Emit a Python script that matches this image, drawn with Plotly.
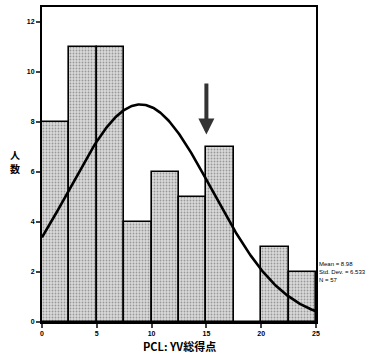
import numpy as np
import plotly.graph_objects as go

bin_starts = [0, 2.5, 5, 7.5, 10, 12.5, 15, 17.5, 20, 22.5]
counts = [8, 11, 11, 4, 6, 5, 7, 0, 3, 2]
bin_width = 2.5
mean_val = 8.98
std_val = 6.533
n_val = 57
x_ticks = [0, 5, 10, 15, 20, 25]
y_ticks = [0, 2, 4, 6, 8, 10, 12]
arrow_x = 15
arrow_top = 9.6
arrow_tip = 7.5

fig = go.Figure()
fig.add_trace(go.Bar(
    x=[s + bin_width / 2 for s in bin_starts], y=counts, width=bin_width,
    marker=dict(color="#d4d4d4", line=dict(color="black", width=1.6),
                pattern=dict(shape=".", fgcolor="#555555", bgcolor="#dadada", size=3, solidity=0.3)),
    showlegend=False,
))
xs = np.linspace(0, 25, 300)
ys = n_val * bin_width / (std_val * np.sqrt(2 * np.pi)) * np.exp(-0.5 * ((xs - mean_val) / std_val) ** 2)
fig.add_trace(go.Scatter(x=xs, y=ys, mode="lines", line=dict(color="black", width=2.6), showlegend=False))

fig.add_annotation(x=arrow_x, y=arrow_tip, ax=arrow_x, ay=arrow_top, xref="x", yref="y", axref="x", ayref="y",
                   showarrow=True, arrowhead=2, arrowsize=0.8, arrowwidth=4, arrowcolor="#333333", text="")

fig.add_annotation(x=1.005, y=0.2, xref="paper", yref="paper", xanchor="left", yanchor="top", align="left",
                   text=f"Mean = {mean_val}<br>Std. Dev. = {std_val}<br>N = {n_val}",
                   showarrow=False, font=dict(size=6, family="Liberation Sans", color="black"))
for ch, yp in (("人", 0.532), ("数", 0.487)):
    fig.add_annotation(x=-0.1, y=yp, xref="paper", yref="paper", xanchor="center", yanchor="middle",
                       showarrow=False, text=f"<b>{ch}</b>",
                       font=dict(size=10, family="Noto Sans CJK JP", color="black"))
fig.add_annotation(x=0.5, y=-0.045, xref="paper", yref="paper", xanchor="center", yanchor="top", showarrow=False,
                   text="<b>PCL: YV総得点</b>", font=dict(size=11, family="Noto Sans CJK JP", color="black"))

tick_font = dict(size=7, family="Liberation Sans", color="black", weight="bold")
fig.update_layout(
    width=382, height=354, margin=dict(l=42, r=66, t=7, b=32),
    paper_bgcolor="white", plot_bgcolor="white", bargap=0,
    xaxis=dict(range=[0, 25], tickvals=x_ticks, ticks="outside", ticklen=4, tickwidth=1.5, automargin=False,
               showline=True, linecolor="black", linewidth=2, mirror=True, showgrid=False, zeroline=False,
               tickfont=tick_font),
    yaxis=dict(range=[0, 12.6], tickvals=y_ticks, ticks="outside", ticklen=4, tickwidth=1.5, automargin=False,
               showline=True, linecolor="black", linewidth=2, mirror=True, showgrid=False, zeroline=False,
               tickfont=tick_font),
)
fig.write_html("out.html", config={"displayModeBar": False},
               post_script="document.body.style.margin='0';")
